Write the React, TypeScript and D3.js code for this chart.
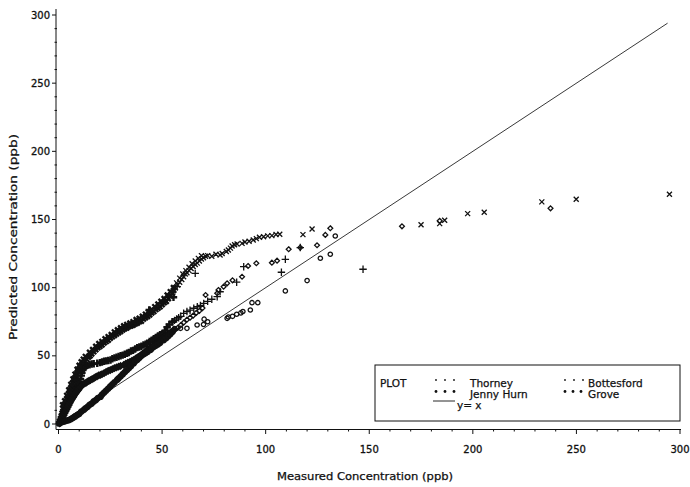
import React from "react";
import * as d3 from "d3";

// chart size
const W = 690;
const H = 487;

const xTicks = [0, 50, 100, 150, 200, 250, 300];
const yTicks = [0, 50, 100, 150, 200, 250, 300];
const minorTicks = [10, 20, 30, 40, 60, 70, 80, 90, 110, 120, 130, 140, 160, 170, 180, 190, 210, 220, 230, 240, 260, 270, 280, 290];

// reference line y = x
const refLine: [number, number][] = [[0, 0], [294, 294]];

// [measured, predicted]
const bottesford: [number, number][] = [
  [0.3, 0.5], [0.6, 2], [1, 4], [1.4, 6], [1.8, 8], [2.2, 9.5], [2.6, 11], [3, 13], [3.4, 14.5], [3.8, 16.5],
  [4.2, 18], [4.6, 20], [5, 22], [5.5, 24], [6, 26], [6.5, 28], [7, 30], [7.5, 32], [8, 33.5], [8.5, 35.5],
  [9, 37], [9.5, 38.5], [10, 40], [10.6, 41.5], [11.2, 43], [12, 44.5], [12.8, 46], [13.6, 47.5], [14.4, 49],
  [15.2, 50], [16, 51.5], [17, 53], [18, 54.5], [19, 56], [20, 57], [21, 58], [22, 59.5], [23, 60.5], [24, 61.5],
  [25, 63], [26, 64], [27, 65], [28, 66], [29, 67], [30, 68], [31, 69], [32, 70], [33, 70.5], [34, 71.5],
  [35, 72], [36, 72.5], [37, 73.5], [38, 74], [39, 75], [40, 75.5], [41, 77], [42, 78], [43, 79], [44, 80],
  [45, 81.5], [46, 82.5], [47, 84], [48, 85], [49, 86], [50, 87.5], [51, 89], [52, 90], [53, 92], [54, 94],
  [55, 96], [55.6, 98], [56.5, 100], [57.5, 102], [58.5, 104], [59.5, 106], [60.4, 108], [61.2, 110], [62, 111],
  [63, 112.5], [64, 114], [65, 115.5], [66, 117], [67, 118], [68, 119.5], [69, 121], [70, 122], [71, 123],
  [72, 123.5], [74, 123], [76, 124.5], [78, 124], [79, 125], [81, 126.5], [82, 127.6], [83, 129], [83.8, 130.6],
  [85, 131.5], [86.2, 132], [88.6, 132.5], [90, 133.5], [92, 134], [94, 135], [95.5, 136], [97, 137], [99, 137.4],
  [101, 138], [103, 138.2], [105, 139], [106.8, 139.2], [118, 138.9], [122.4, 143],
  [2, 14], [3, 17], [4, 21], [5, 25], [6, 29], [7, 33], [8, 36.5], [9, 40], [10, 43], [11, 45.5], [12, 47.5],
  [13, 49.5], [15, 52.5], [16.5, 54.5], [18, 57], [19.5, 59], [21, 60.5], [22.5, 62.5], [24, 64], [25.5, 65.5],
  [27, 67.5], [28.5, 69], [30, 70.5], [31.5, 72], [33, 73], [34.5, 74], [36, 75], [37.5, 76.5], [39, 77.5],
  [40.5, 79], [42, 80.5], [43.5, 82], [45, 84], [46.5, 86], [48, 88], [49.5, 90], [51, 92], [52.5, 94.5],
  [54, 97], [55.5, 100], [57, 103.5], [58.5, 107], [60, 110], [61.5, 112.5], [63, 115], [64.5, 117.5],
  [66, 119.5], [67.5, 121.5], [69, 123.5],
  [175, 146.2], [184, 147], [186.4, 149.4], [197.5, 154.3], [205.5, 155.3], [233.3, 162.9], [249.9, 164.8], [294.9, 168.5],
];

const thorney: [number, number][] = [
  [0.5, 1], [1, 3], [1.5, 4.5], [2, 6], [2.5, 8], [3, 9.5], [3.5, 11], [4, 13], [4.5, 15], [5, 16.5],
  [5.5, 18], [6, 20], [6.5, 21.5], [7, 23], [7.5, 24.5], [8, 26], [8.5, 27], [9, 28.5], [9.5, 30], [10, 31],
  [10.6, 33], [11, 35.5], [11.3, 37.5], [11.7, 39.5], [12.2, 40.8], [13, 42], [14, 43], [15, 43.5], [16, 44],
  [17, 44.2], [18.7, 44.5], [20, 45], [21, 45.5], [22, 46], [23, 46.3], [24, 46.6], [25.1, 47], [26, 47.8],
  [27, 48.5], [28, 49], [29, 49.5], [30, 50], [31, 50.5], [32, 51.2], [33.1, 51.9], [34, 52.5], [35, 53.5],
  [36, 54], [37, 55], [38, 56], [39, 56.5], [40, 57], [41, 58], [42, 58.6], [42.8, 59.2], [44, 60.5], [45, 61.5],
  [46, 62.5], [47, 63.5], [48, 64.5], [49, 65.5], [50, 66], [50.8, 66.5], [51.5, 68.5], [52.4, 71], [53.5, 73],
  [55, 75], [56, 76], [57, 77], [58, 78], [59, 79], [60.4, 81.2], [62, 82.5], [63.5, 83.5], [65.3, 84.9],
  [67, 86], [68.5, 87], [70.1, 88.5], [72, 90], [74, 91.5], [76.6, 93.4],
  [43.8, 83.6], [55.5, 93], [57.3, 100.7], [66, 110.5], [78, 97], [86, 104], [89.4, 115.4],
  [107.6, 111.3], [109.5, 120.8], [116.7, 129.4], [147, 113.5],
];

const jennyHurn: [number, number][] = [
  [0.5, 0.5], [1, 2], [1.5, 3.5], [2, 5], [2.5, 6.5], [3, 8], [3.5, 9.5], [4, 11], [4.5, 12.5], [5, 14],
  [5.5, 15.5], [6, 17], [6.5, 18.3], [7, 19.5], [7.5, 20.8], [8, 22], [8.5, 23], [9, 24], [9.5, 25], [10, 26],
  [10.7, 27.3], [11.4, 28.6], [12, 29.2], [12.7, 29.8], [13.4, 30.4], [14, 31], [14.7, 31.6], [15.4, 32.2],
  [16.2, 32.9], [17, 33.5], [17.8, 34.3], [18.6, 35], [19.4, 35.6], [20.2, 36], [21, 36.5], [22, 37.3],
  [23, 38.2], [24, 39], [25, 39.6], [26, 40.2], [27, 40.9], [28, 41.5], [29, 42], [30, 42.6], [31.5, 43.3],
  [32.5, 44.2], [33.5, 45], [34.5, 45.6], [35.5, 46.4], [36.5, 47.3], [37.5, 48.3], [38.5, 49.3], [39.5, 50.2],
  [40.5, 51.5], [41.5, 52.6], [42.5, 53.8], [43.5, 55], [44.5, 56], [45.5, 57.2], [46.5, 58.3], [47.5, 59.5],
  [48.5, 60.5], [49.5, 61.8], [50.5, 63], [51.5, 64.2], [52.5, 65.5], [53.5, 66.5], [54.5, 67.5], [55.5, 68.5],
  [56.5, 69.5], [57.5, 70.5], [59, 72.5], [60.5, 74.5], [62, 76.5], [63.5, 78], [65, 79.5], [66.5, 81.5],
  [68, 83], [69.5, 85],
  [71, 94.6], [76.6, 95.9], [77.2, 98.3], [79.7, 100.7], [81.4, 103.2], [84, 105.4], [88.6, 108], [91.5, 115.9],
  [95.5, 117.9], [103, 118.3], [105.5, 119.8], [111.1, 128.2], [116.7, 129.4], [124.8, 131.1], [128.8, 138.7],
  [131.2, 143.6], [165.8, 145], [184, 149], [237.5, 158.2],
];

const grove: [number, number][] = [
  [0.5, 0.5], [1, 1], [2, 1.5], [3, 2], [4, 2.5], [5, 2.9], [6, 3.5], [7, 4.5], [8, 5.5], [9, 6.5], [10, 7.5],
  [11, 9], [12.2, 10.3], [13, 11.5], [14, 12.5], [15, 14], [16, 15], [17, 16.5], [18, 17.5], [19, 19], [20.3, 20],
  [21, 21.5], [22, 23], [23, 24.5], [24, 26], [25, 27.5], [26, 29], [27, 30.5], [28.3, 32.3], [29, 33.5], [30, 35],
  [31, 36.5], [32, 38], [33, 39.5], [34, 41], [35, 42.5], [36.3, 44.5], [37, 46], [38, 47], [39, 48.5], [40, 50],
  [41, 51], [42, 52], [43, 53], [44.4, 54.3], [45, 55.5], [46, 56.5], [47, 57.5], [48, 58.5], [49, 59.5],
  [50.8, 61.6], [52, 63], [53, 64.5], [54, 66], [55, 67.5], [56, 70], [58.9, 70.2], [62, 70.2], [66.9, 72.6],
  [70, 73], [70.3, 76.9], [72, 75], [81.4, 77.5], [82, 78.5], [84, 79], [86, 80.5], [88, 81.5], [89, 82.5],
  [92.6, 83.6], [93.4, 89], [96.2, 89], [109.5, 97.6], [120, 105.2], [126.4, 121.6], [131.2, 124.5], [133.6, 137.9],
];

const series = [
  { name: "Thorney", data: thorney, shape: d3.symbolPlus, size: 20 },
  { name: "Bottesford", data: bottesford, shape: d3.symbolTimes, size: 18 },
  { name: "Jenny Hurn", data: jennyHurn, shape: d3.symbolDiamond2, size: 15 },
  { name: "Grove", data: grove, shape: d3.symbolCircle, size: 15 },
];

const x = d3.scaleLinear().domain([0, 300]).range([58.5, 680]);
const y = d3.scaleLinear().domain([0, 300]).range([424, 15]);

const font = "'DejaVu Sans', Arial, sans-serif";
const ink = "#111";

export default function App() {
  const line = d3.line<[number, number]>().x(d => x(d[0])).y(d => y(d[1]));
  const axisY = 429.5;
  const axisX = 56;

  // the scan merged the crowded points near the origin into solid bands
  const dense = (d: [number, number]) => d[0] < 56;

  return (
    <svg width={W} height={H} style={{ position: "absolute", left: 0, top: 0, background: "#fff" }}>
      <rect width={W} height={H} fill="#fff" />

      {/* axes */}
      <line x1={axisX} x2={681} y1={axisY} y2={axisY} stroke={ink} strokeWidth={1} />
      <line x1={axisX} x2={axisX} y1={9} y2={axisY} stroke={ink} strokeWidth={1} />
      <g fontFamily={font} fontSize={10} fill={ink} stroke={ink} strokeWidth={0.3}>
        {xTicks.map(t => (
          <g key={"xt" + t}>
            <line x1={x(t)} x2={x(t)} y1={axisY} y2={axisY + 4.5} stroke={ink} strokeWidth={1} />
            <text x={x(t)} y={453} textAnchor="middle">{t}</text>
          </g>
        ))}
        {yTicks.map(t => (
          <g key={"yt" + t}>
            <line x1={axisX - 4} x2={axisX} y1={y(t)} y2={y(t)} stroke={ink} strokeWidth={1} />
            <text x={50} y={y(t) + 3.6} textAnchor="end">{t}</text>
          </g>
        ))}
      </g>
      {minorTicks.map(t => (
        <line key={"xm" + t} x1={x(t)} x2={x(t)} y1={axisY} y2={axisY + 2} stroke={ink} />
      ))}
      {minorTicks.map(t => (
        <line key={"ym" + t} x1={axisX - 1.5} x2={axisX + 1} y1={y(t)} y2={y(t)} stroke={ink} />
      ))}

      <g fontFamily={font} fill={ink} stroke={ink} strokeWidth={0.25}>
        <text x={365} y={480} textAnchor="middle" fontSize={10}
          textLength={176} lengthAdjust="spacingAndGlyphs">Measured Concentration (ppb)</text>
        <text transform={`translate(17,237) rotate(-90)`} textAnchor="middle" fontSize={10.5}
          textLength={206} lengthAdjust="spacingAndGlyphs">Predicted Concentration (ppb)</text>
      </g>

      {/* y = x */}
      <path d={line(refLine) ?? ""} fill="none" stroke="#222" strokeWidth={0.9} />

      {/* points */}
      {series.map(s => {
        const sym = d3.symbol(s.shape, s.size);
        return (
          <g key={s.name} stroke={ink}>
            {s.data.map((d, i) => (
              <path key={i} transform={`translate(${x(d[0])},${y(d[1])})`} d={sym() ?? ""}
                fill={dense(d) ? ink : "none"} strokeWidth={dense(d) ? 2.4 : 1.3} />
            ))}
          </g>
        );
      })}

      {/* legend */}
      <rect x={375} y={365} width={305} height={56} fill="#fff" stroke={ink} strokeWidth={1} />
      <g fontFamily={font} fontSize={10.5} fill={ink} stroke={ink} strokeWidth={0.25}>
        <text x={380} y={386.5}>PLOT</text>
        <text x={470} y={386.5}>Thorney</text>
        <text x={588} y={386.5}>Bottesford</text>
        <text x={470} y={398}>Jenny Hurn</text>
        <text x={588} y={398}>Grove</text>
        <text x={457} y={409}>y= x</text>
      </g>
      {[436, 445, 454].map(cx => <circle key={"a" + cx} cx={cx} cy={380} r={0.9} fill={ink} />)}
      {[565, 574, 583].map(cx => <circle key={"b" + cx} cx={cx} cy={380} r={0.9} fill={ink} />)}
      {[436, 445, 454].map(cx => <circle key={"c" + cx} cx={cx} cy={391.5} r={1.4} fill={ink} />)}
      {[565, 573, 581].map(cx => <circle key={"d" + cx} cx={cx} cy={391.5} r={1.4} fill={ink} />)}
      <line x1={433} x2={455} y1={401} y2={401} stroke={ink} strokeWidth={0.9} />
    </svg>
  );
}
